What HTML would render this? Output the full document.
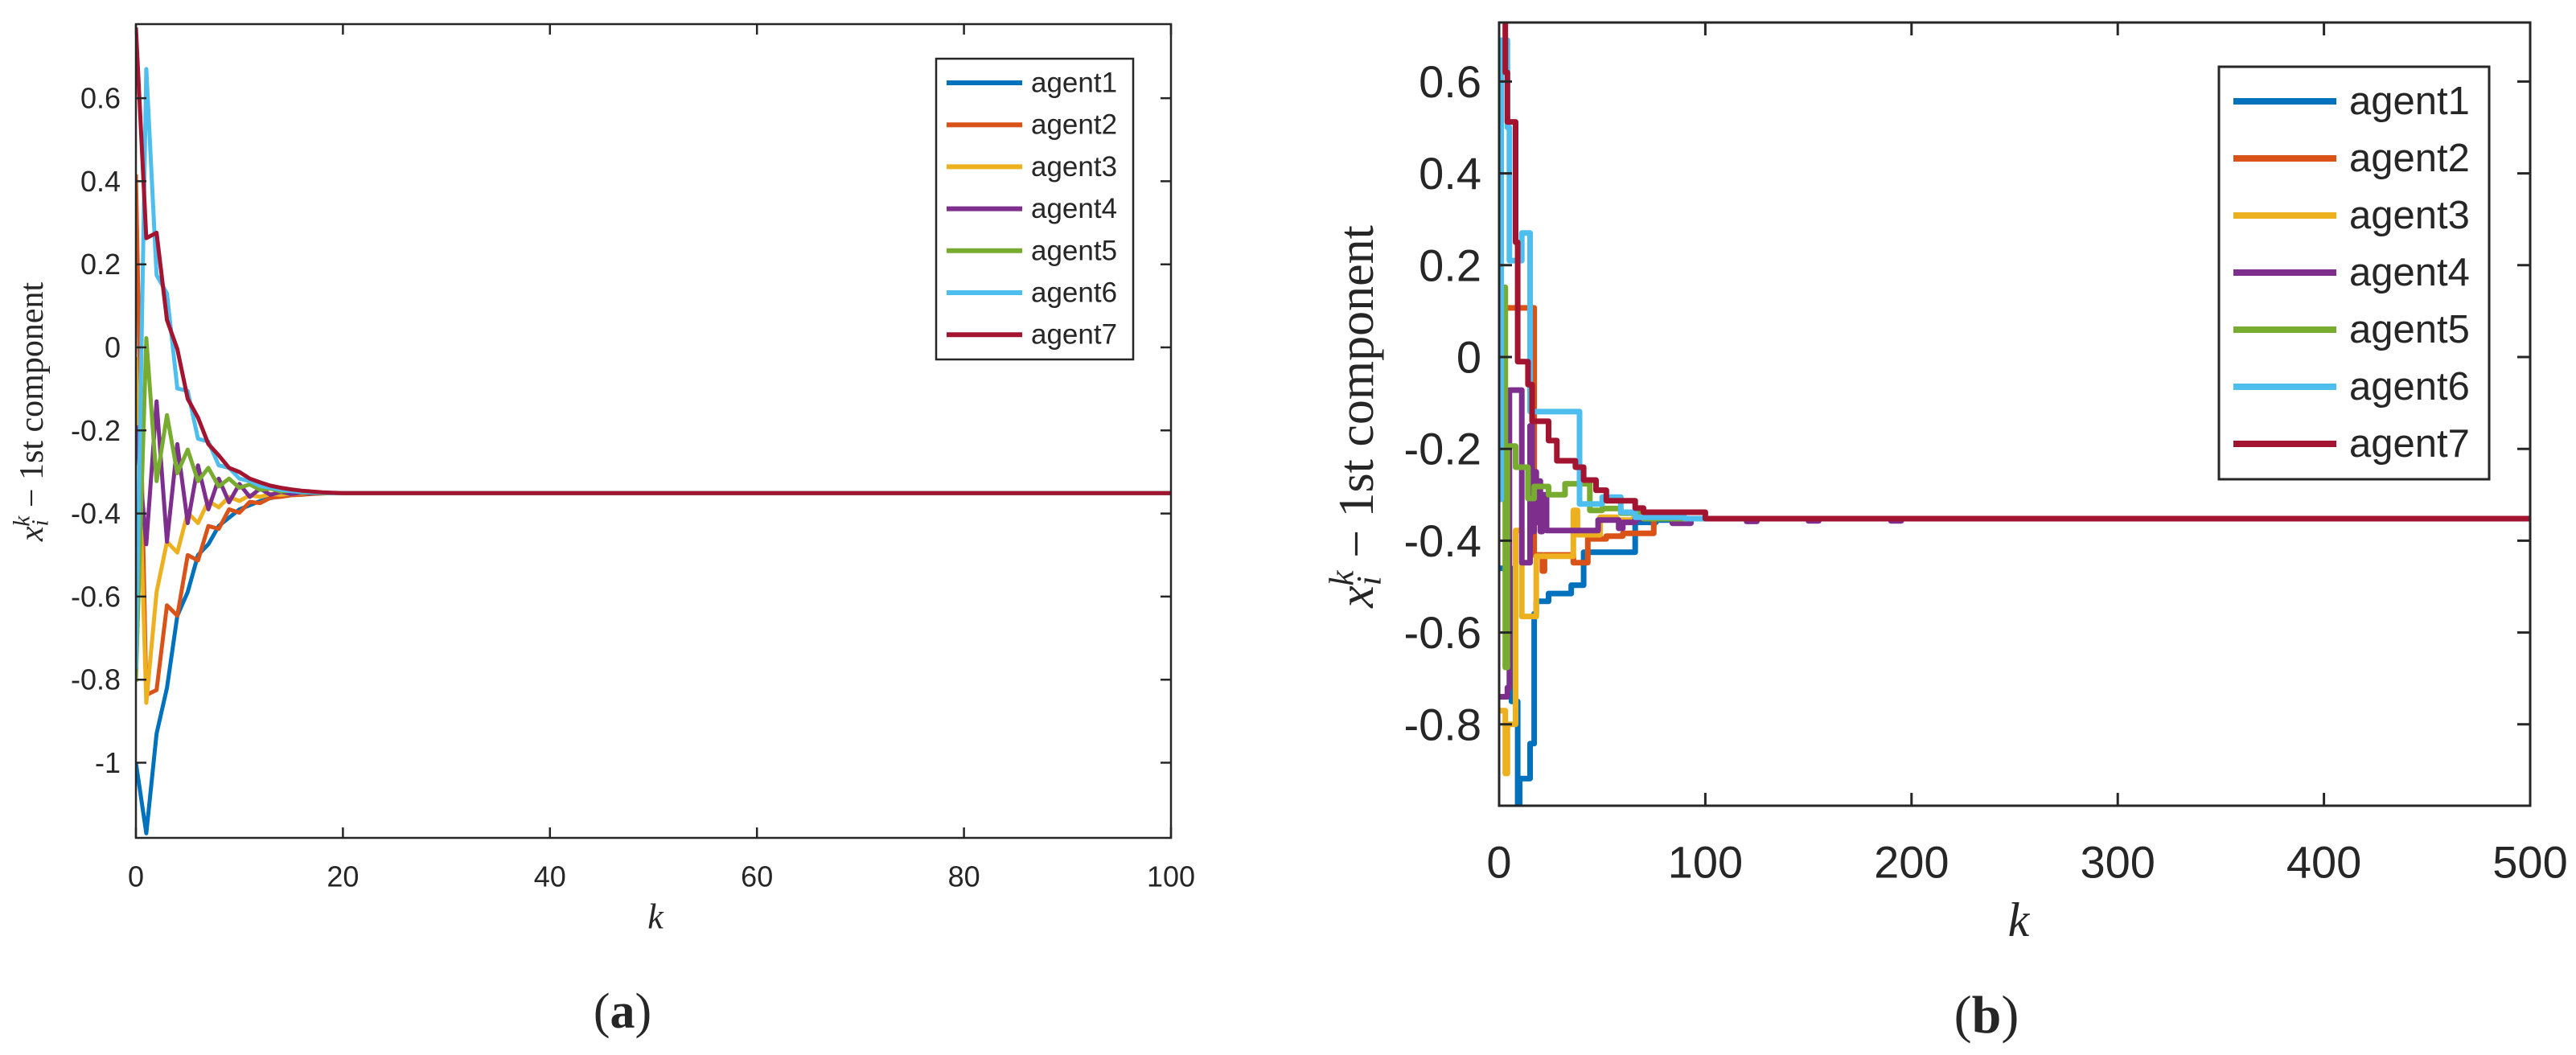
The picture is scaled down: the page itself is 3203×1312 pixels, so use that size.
<!DOCTYPE html>
<html><head><meta charset="utf-8">
<style>
html,body{margin:0;padding:0;background:#fff;}
svg{display:block;}
text{fill:#262626;}
</style></head>
<body>
<svg id="fig" width="3203" height="1312" viewBox="0 0 3203 1312" xmlns="http://www.w3.org/2000/svg">
<defs>
<clipPath id="clipA"><rect x="169" y="30" width="1287" height="1012"/></clipPath>
<clipPath id="clipB"><rect x="1864" y="28" width="1282" height="974"/></clipPath>
</defs>
<g id="panelA"></g>
<g id="panelB"></g>
</svg>
<script>
// ---------- data: panel (a) ----------
const colors = ["#0072BD","#D95319","#EDB120","#7E2F8E","#77AC30","#4DBEEE","#A2142F"];
const agentNames = ["agent1","agent2","agent3","agent4","agent5","agent6","agent7"];
const leftK = [0,1,2,3,4,5,6,7,8,9,10,11,12,13,14,15,16,17,18,19,20,100];
const leftA1 = [-1.0,-1.17,-0.93,-0.82,-0.646,-0.589,-0.50,-0.474,-0.43,-0.41,-0.39,-0.38,-0.37,-0.363,-0.358,-0.355,-0.353,-0.352,-0.351,-0.351,-0.351,-0.351];
const leftA2 = [0.416,-0.837,-0.825,-0.621,-0.646,-0.50,-0.513,-0.43,-0.437,-0.39,-0.398,-0.372,-0.375,-0.362,-0.36,-0.356,-0.355,-0.353,-0.352,-0.351,-0.351,-0.351];
const leftA3 = [-0.023,-0.856,-0.589,-0.468,-0.494,-0.398,-0.423,-0.37,-0.385,-0.36,-0.37,-0.356,-0.36,-0.353,-0.355,-0.352,-0.352,-0.351,-0.351,-0.351,-0.351,-0.351];
const leftA4 = [-0.188,-0.474,-0.13,-0.468,-0.233,-0.423,-0.284,-0.39,-0.316,-0.373,-0.329,-0.36,-0.34,-0.355,-0.348,-0.353,-0.35,-0.352,-0.351,-0.351,-0.351,-0.351];
const leftA5 = [-0.805,0.022,-0.322,-0.163,-0.303,-0.246,-0.322,-0.29,-0.335,-0.316,-0.338,-0.33,-0.343,-0.34,-0.347,-0.345,-0.349,-0.35,-0.351,-0.351,-0.351,-0.351];
const leftA6 = [-0.774,0.67,0.174,0.13,-0.099,-0.105,-0.22,-0.227,-0.284,-0.29,-0.316,-0.322,-0.334,-0.338,-0.343,-0.346,-0.348,-0.349,-0.35,-0.351,-0.351,-0.351];
const leftA7 = [0.77,0.263,0.276,0.066,-0.004,-0.124,-0.169,-0.233,-0.26,-0.29,-0.30,-0.316,-0.325,-0.333,-0.338,-0.342,-0.345,-0.347,-0.349,-0.35,-0.351,-0.351];
const leftXTicks = [0,20,40,60,80,100];
const leftYTicks = [-1,-0.8,-0.6,-0.4,-0.2,0,0.2,0.4,0.6];

// ---------- data: panel (b) (stairs: value holds from k until next k) ----------
const rK1 = [0,6,9,10,15,17,18,24,35,41,66,76,84];
const rV1 = [-0.46,-0.75,-0.974,-0.918,-0.842,-0.559,-0.532,-0.515,-0.497,-0.425,-0.36,-0.355,-0.352];
const rK2 = [0,17,21,22,36,43,52,60,75];
const rV2 = [0.107,-0.431,-0.466,-0.431,-0.448,-0.396,-0.39,-0.384,-0.352];
const rK3 = [0,3,4,8,11,18,36,38,49,57,65];
const rV3 = [-0.77,-0.907,-0.8,-0.378,-0.565,-0.434,-0.334,-0.387,-0.349,-0.355,-0.352];
const rK4 = [0,4,5,11,15,16,17,18,19,20,21,23,48,58,60,66,84,93,120,125,150,155,190,195];
const rV4 = [-0.74,-0.72,-0.072,-0.448,-0.15,-0.38,-0.25,-0.36,-0.27,-0.38,-0.30,-0.378,-0.355,-0.373,-0.36,-0.352,-0.362,-0.352,-0.358,-0.352,-0.357,-0.352,-0.357,-0.352];
const rK5 = [0,2,3,4,8,14,17,24,32,44,50,59,70];
const rV5 = [-0.30,0.152,-0.676,-0.194,-0.24,-0.308,-0.282,-0.30,-0.276,-0.334,-0.33,-0.34,-0.352];
const rK6 = [0,1,4,5,11,15,39,50,59,66,90];
const rV6 = [-0.31,0.69,0.5,0.21,0.27,-0.119,-0.32,-0.305,-0.338,-0.349,-0.352];
const rK7 = [0,3,4,8,9,14,16,24,28,37,41,47,52,66,70,100];
const rV7 = [0.74,0.62,0.512,0.25,-0.01,-0.06,-0.14,-0.182,-0.226,-0.24,-0.268,-0.29,-0.313,-0.329,-0.338,-0.352];
const rightXTicks = [0,100,200,300,400,500];
const rightYTicks = [-0.8,-0.6,-0.4,-0.2,0,0.2,0.4,0.6];

const NS = "http://www.w3.org/2000/svg";
function mk(tag, attrs, parent){
  const e = document.createElementNS(NS, tag);
  for (const k in attrs) e.setAttribute(k, attrs[k]);
  parent.appendChild(e);
  return e;
}
function fmt(v){ return String(Math.round(v*10)/10); }

const AX = {x0:169,x1:1456,y0:30,y1:1042,kmin:0,kmax:100,vz:432,vs:516.5};
const BX = {x0:1864,x1:3146,y0:28,y1:1002,kmin:0,kmax:500,vz:444,vs:571};
function sx(ax,k){ return ax.x0 + (k-ax.kmin)/(ax.kmax-ax.kmin)*(ax.x1-ax.x0); }
function sy(ax,v){ return ax.vz - v*ax.vs; }

function drawAxes(g, ax, xt, yt, o){
  xt.forEach(t=>{
    const x = sx(ax,t);
    const tk = mk("path",{d:`M${x},${ax.y1}v${-o.tl}M${x},${ax.y0}v${o.tl}`,stroke:"#262626","stroke-width":o.tw,fill:"none"},g);
    
    
    const lb = mk("text",{x:x,y:o.xly,"text-anchor":"middle","dominant-baseline":"central","font-family":"Liberation Sans, sans-serif","font-size":o.fs},g);
    lb.textContent = String(t);
    
    
  });
  yt.forEach(t=>{
    const y = sy(ax,t);
    const tk = mk("path",{d:`M${ax.x0},${y}h${o.tl}M${ax.x1},${y}h${-o.tl}`,stroke:"#262626","stroke-width":o.tw,fill:"none"},g);
    
    
    const lb = mk("text",{x:o.ylx,y:y,"text-anchor":"end","dominant-baseline":"central","font-family":"Liberation Sans, sans-serif","font-size":o.fs},g);
    lb.textContent = fmt(t);
    
    
  });
}
function drawBox(g, ax, w){
  const b = mk("rect",{x:ax.x0,y:ax.y0,width:ax.x1-ax.x0,height:ax.y1-ax.y0,fill:"none",stroke:"#262626","stroke-width":w},g);
  
  
}
function drawLegend(g, L){
  const box = mk("rect",{x:L.x,y:L.y,width:L.w,height:L.h,fill:"#fff",stroke:"#262626","stroke-width":L.bw},g);
  
  
  agentNames.forEach((n,i)=>{
    const y = L.ey0 + i*L.dy;
    const ln = mk("line",{x1:L.lx0,x2:L.lx1,y1:y,y2:y,stroke:colors[i],"stroke-width":L.lw},g);
    
    
    const t = mk("text",{x:L.tx,y:y,"dominant-baseline":"central","font-family":"Liberation Sans, sans-serif","font-size":L.fs,fill:"#000"},g);
    t.textContent = n;
    
    
  });
}
function yLabel(g, cx, cy, fs){
  const t = mk("text",{x:0,y:0,"text-anchor":"middle","dominant-baseline":"central","font-family":"Liberation Serif, serif","font-size":fs,transform:`translate(${cx},${cy}) rotate(-90)`},g);
  t.innerHTML = `<tspan font-style="italic">x</tspan><tspan font-style="italic" font-size="${fs*0.7}" dy="${fs*0.25}">i</tspan><tspan font-style="italic" font-size="${fs*0.7}" dx="${-fs*0.2}" dy="${-fs*0.55}">k</tspan><tspan dy="${fs*0.3}"> − 1st component</tspan>`;
  
  
}
function xLabel(g, x, y, fs){
  const t = mk("text",{x:x,y:y,"text-anchor":"middle","dominant-baseline":"central","font-family":"Liberation Serif, serif","font-size":fs,"font-style":"italic"},g);
  t.textContent = "k";
  
  
}
function caption(g, x, y, fs, letter, nm){
  const t = mk("text",{x:x,y:y,"text-anchor":"middle","dominant-baseline":"central","font-family":"Liberation Serif, serif","font-size":fs,fill:"#000"},g);
  t.innerHTML = `(<tspan font-weight="bold">${letter}</tspan>)`;
  
  
}

// ---------- panel (a) ----------
const gA = document.getElementById("panelA");
const seriesA = [leftA1,leftA2,leftA3,leftA4,leftA5,leftA6,leftA7];
const lineGA = mk("g",{"clip-path":"url(#clipA)"},gA);


seriesA.forEach((vals,i)=>{
  const pts = leftK.map((k,j)=>`${sx(AX,k).toFixed(1)},${sy(AX,vals[j]).toFixed(1)}`).join(" ");
  const pl = mk("polyline",{points:pts,fill:"none",stroke:colors[i],"stroke-width":5,"stroke-linejoin":"round"},lineGA);
  
  
});
drawAxes(gA, AX, leftXTicks, leftYTicks, {tl:13,tw:2.5,fs:36,xly:1090,ylx:150});
drawBox(gA, AX, 2.5);
drawLegend(gA,{x:1164,y:73,w:245,h:374,bw:2.5,ey0:103,dy:52.2,lx0:1177,lx1:1271,lw:6,tx:1282,fs:35});
yLabel(gA, 40, 512, 42);
xLabel(gA, 815, 1140, 44);
caption(gA, 774, 1258, 62, "a", "caption-a");

// ---------- panel (b) ----------
const gB = document.getElementById("panelB");
const seriesBK = [rK1,rK2,rK3,rK4,rK5,rK6,rK7];
const seriesBV = [rV1,rV2,rV3,rV4,rV5,rV6,rV7];
const lineGB = mk("g",{"clip-path":"url(#clipB)"},gB);


seriesBK.forEach((ks,i)=>{
  const vs = seriesBV[i];
  let d = `M${sx(BX,ks[0]).toFixed(1)},${sy(BX,vs[0]).toFixed(1)}`;
  for (let j=1;j<ks.length;j++){
    d += `H${sx(BX,ks[j]).toFixed(1)}V${sy(BX,vs[j]).toFixed(1)}`;
  }
  d += `H${sx(BX,BX.kmax).toFixed(1)}`;
  const p = mk("path",{d:d,fill:"none",stroke:colors[i],"stroke-width":7,"stroke-linejoin":"round"},lineGB);
  
  
});
drawAxes(gB, BX, rightXTicks, rightYTicks, {tl:16,tw:3,fs:56,xly:1072,ylx:1842});
drawBox(gB, BX, 3);
drawLegend(gB,{x:2759,y:83,w:336,h:513,bw:3,ey0:126,dy:71,lx0:2777,lx1:2905,lw:8,tx:2921,fs:49});
yLabel(gB, 1687, 518, 62);
xLabel(gB, 2510, 1144, 60);
caption(gB, 2470, 1262, 66, "b", "caption-b");
</script>
</body></html>
